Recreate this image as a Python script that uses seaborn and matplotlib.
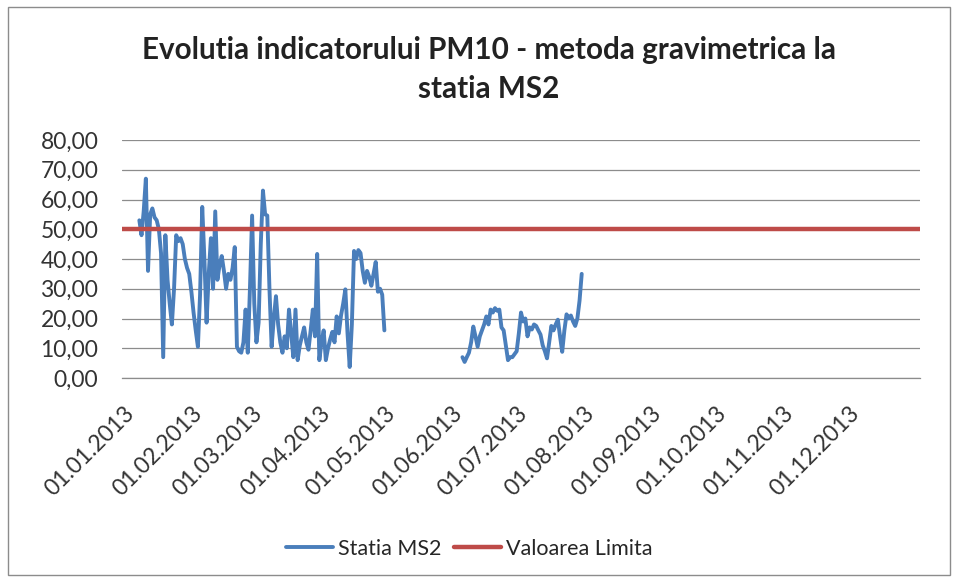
import matplotlib
matplotlib.use("Agg")
import matplotlib.pyplot as plt
import matplotlib.transforms as mtransforms
from matplotlib.patches import Rectangle
import numpy as np
import pandas as pd
import seaborn as sns

sns.set_theme(style="white")
plt.rcParams['font.family'] = ['Lato', 'DejaVu Sans']

# ---- data ----
seg1_start = "2013-01-09"
seg1_values = [53, 48, 56, 67, 36, 55, 57, 54, 53, 50, 42, 7, 48, 33, 25, 18, 30,
               48, 46, 47, 45, 40, 37, 35, 29, 22, 16, 10.5, 28, 57.5, 40, 18.6, 35,
               47, 30, 56, 33, 38, 41, 36, 30, 35, 33, 37, 44, 10.5, 9, 8.5, 12, 23,
               8.5, 30, 54.6, 25, 12, 18.6, 45, 63, 55, 54.6, 30, 10.5, 20, 27.5, 18,
               12, 8.5, 14, 10, 23, 15, 7, 23, 6, 11, 14, 17, 12, 9.5, 16, 23, 14,
               41.7, 6, 12, 16, 6, 10, 13, 15.5, 12, 20.7, 15, 21, 25, 29.8, 15, 3.7,
               18, 42.7, 40, 43, 42, 36, 32, 36, 34, 31, 35, 39, 29, 30, 28, 16]
seg2_start = "2013-06-07"
seg2_values = [7, 5.4, 7, 8.5, 12, 17.3, 14, 10.5, 14, 16, 18, 20.7, 18, 23, 22,
               23.5, 22.6, 23, 17, 16, 11, 6, 7, 7, 8, 9, 15, 22, 19, 20, 14, 17,
               16.3, 18, 17.5, 16, 14.6, 11, 9, 6.6, 12, 17.5, 16, 18, 19.6, 14, 8.8,
               16, 21.4, 20, 21, 19, 17.5, 20, 26, 35]
limit_value = 50
limit_start = "2013-01-01"
limit_end = "2014-01-04"
tick_months = pd.date_range("2013-01-01", "2013-12-01", freq="MS")
series_name = "Statia MS2"
limit_name = "Valoarea Limita"
title_line1 = "Evolutia indicatorului PM10 - metoda gravimetrica la"
title_line2 = "statia MS2"
y_ticks = [0, 10, 20, 30, 40, 50, 60, 70, 80]

df1 = pd.DataFrame({"date": pd.date_range(seg1_start, periods=len(seg1_values), freq="D"),
                    "value": seg1_values})
df2 = pd.DataFrame({"date": pd.date_range(seg2_start, periods=len(seg2_values), freq="D"),
                    "value": seg2_values})
lim_dates = pd.date_range(limit_start, limit_end, freq="D")
df_lim = pd.DataFrame({"date": lim_dates, "value": [limit_value] * len(lim_dates)})

blue = "#4a7ebb"
red = "#be4b48"

fig = plt.figure(figsize=(9.57, 5.79), dpi=100)
fig.patch.set_facecolor("white")
ax = fig.add_axes([122/957, 1-378/579, (920-122)/957, (378-140)/579])

sns.lineplot(data=df1, x="date", y="value", ax=ax, color=blue, lw=2.8, label=series_name,
             solid_joinstyle="round")
sns.lineplot(data=df2, x="date", y="value", ax=ax, color=blue, lw=2.8, label="_nolegend_",
             solid_joinstyle="round")
sns.lineplot(data=df_lim, x="date", y="value", ax=ax, color=red, lw=3.2, label=limit_name)

ax.set_ylim(0, 80)
ax.set_yticks(y_ticks)
ax.set_yticklabels([f"{v:.2f}".replace(".", ",") for v in y_ticks])
ax.set_xlim(pd.Timestamp(limit_start), pd.Timestamp(limit_end))
ax.set_xticks(tick_months)
ax.set_xticklabels([d.strftime("%d.%m.%Y") for d in tick_months])
ax.set_xlabel("")
ax.set_ylabel("")

ax.grid(axis="y", color="#8c8c8c", lw=0.9)
ax.grid(axis="x", visible=False)
for s in ["top", "right", "left"]:
    ax.spines[s].set_visible(False)
ax.spines["bottom"].set_color("#8c8c8c")
ax.spines["bottom"].set_linewidth(0.9)

ax.tick_params(axis="y", labelsize=16.5, labelcolor="#333333", length=0, pad=17)
ax.tick_params(axis="x", labelsize=16.5, labelcolor="#333333", length=0, pad=18)
offset = mtransforms.ScaledTranslation(2/100, 0, fig.dpi_scale_trans)
for lbl in ax.get_xticklabels():
    lbl.set_rotation(45)
    lbl.set_ha("right")
    lbl.set_va("top")
    lbl.set_rotation_mode("anchor")
    lbl.set_transform(lbl.get_transform() + offset)

if ax.legend_:
    ax.legend_.remove()
handles, labels = ax.get_legend_handles_labels()
fig.legend(handles, labels, loc="center", bbox_to_anchor=(469/957, 1-549/579), ncol=2,
           frameon=False, fontsize=15.5, handlelength=2.2, columnspacing=0.6,
           handletextpad=0.2)

fig.text(489/957, 1-50/579, title_line1,
         ha="center", va="center", fontsize=21.3, fontweight="bold", color="#222222")
fig.text(489/957, 1-89/579, title_line2,
         ha="center", va="center", fontsize=21.3, fontweight="bold", color="#222222")

fig.patches.append(Rectangle((8/957, 4/579), (950-8)/957, (572-4)/579, transform=fig.transFigure,
                             fill=False, edgecolor="#8c8c8c", lw=1.0))

fig.savefig("out.png", dpi=100, facecolor="white")
